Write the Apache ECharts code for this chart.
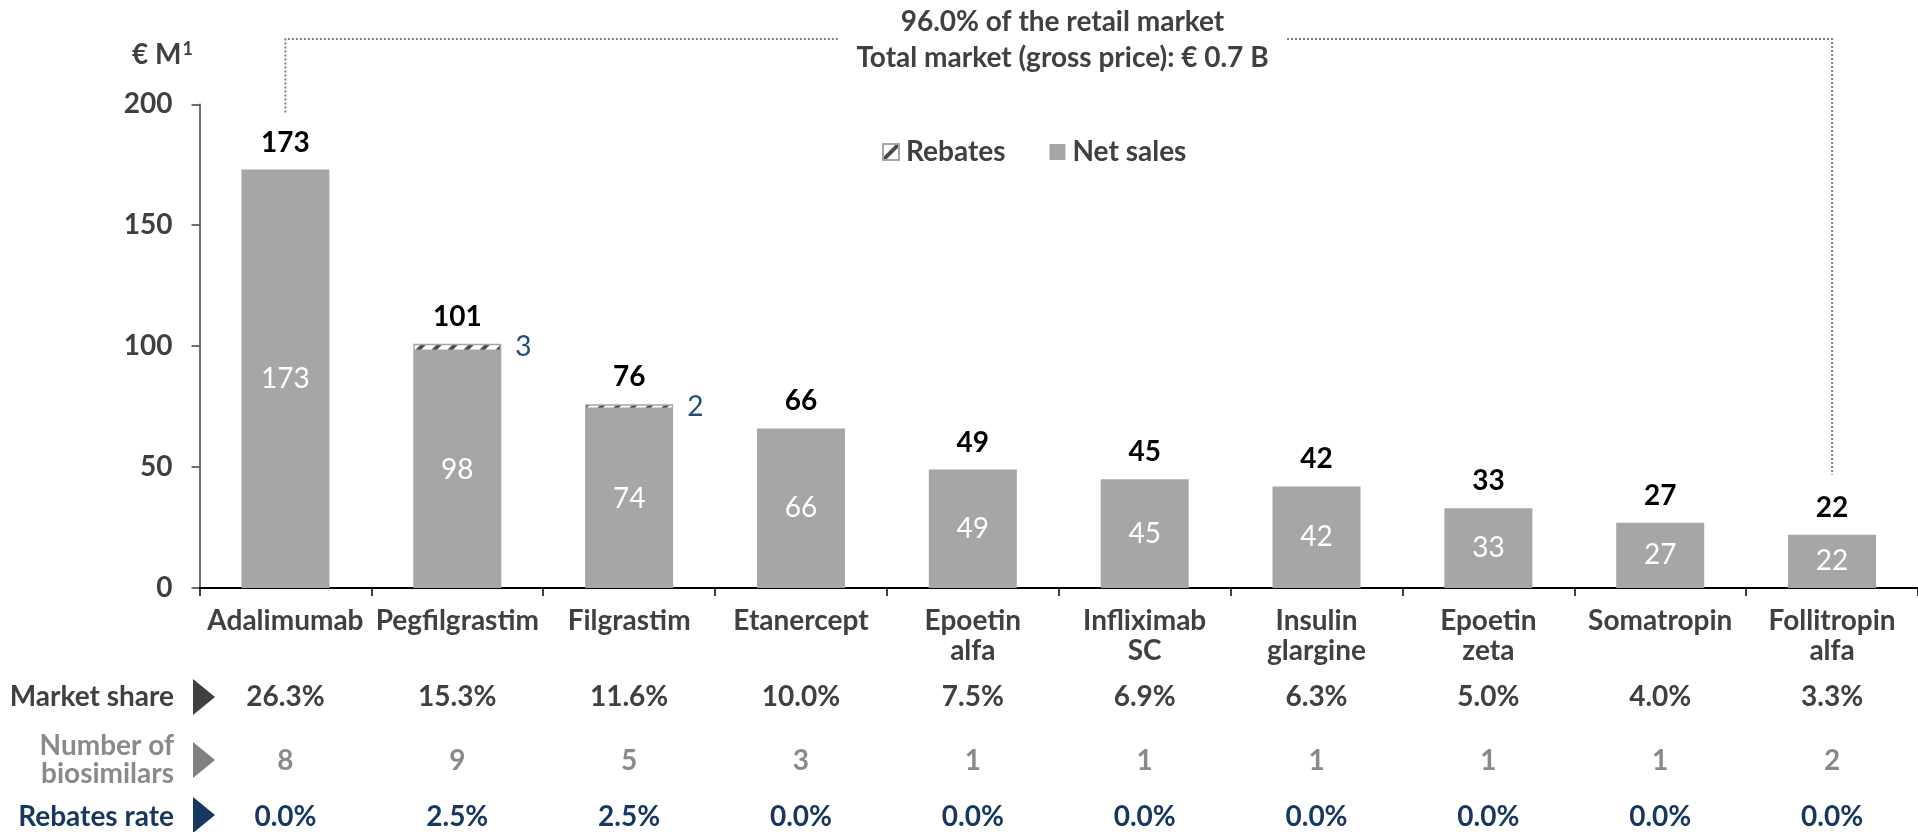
<!DOCTYPE html>
<html>
<head>
<meta charset="utf-8">
<script src="https://cdn.jsdelivr.net/npm/echarts@6/dist/echarts.min.js"></script>
<style>
html,body{margin:0;padding:0;background:#fff;}
#c{width:1918px;height:832px;}
</style>
</head>
<body>
<div id="c"></div>
<script>
// ---- data ----
const categories = ['Adalimumab','Pegfilgrastim','Filgrastim','Etanercept','Epoetin\nalfa','Infliximab\nSC','Insulin\nglargine','Epoetin\nzeta','Somatropin','Follitropin\nalfa'];
const netSales = [173, 98, 74, 66, 49, 45, 42, 33, 27, 22];
const rebates = [0, 3, 2, 0, 0, 0, 0, 0, 0, 0];
const totals = [173, 101, 76, 66, 49, 45, 42, 33, 27, 22];
const marketShare = ['26.3%','15.3%','11.6%','10.0%','7.5%','6.9%','6.3%','5.0%','4.0%','3.3%'];
const biosimilars = ['8','9','5','3','1','1','1','1','1','2'];
const rebatesRate = ['0.0%','2.5%','2.5%','0.0%','0.0%','0.0%','0.0%','0.0%','0.0%','0.0%'];
const yMin = 0, yMax = 200, yInterval = 50;
const unitLabel = '€ M';
const unitSup = '1';
const headerLine1 = '96.0% of the retail market';
const headerLine2 = 'Total market (gross price): € 0.7 B';
const rowLabels = ['Market share', 'Number of\nbiosimilars', 'Rebates rate'];

// ---- styles ----
const FONT = 'Lato';
const FS = 28;
const DARK = '#404040';
const GREY = '#8a8a8a';
const NAVY = '#17375E';
const BLUE = '#1F4E79';
const BAR = '#A6A6A6';

// hatch pattern for rebates
const pc = document.createElement('canvas');
pc.width = 16; pc.height = 16;
const g = pc.getContext('2d');
g.fillStyle = '#ffffff'; g.fillRect(0,0,16,16);
g.strokeStyle = '#4a4a4a'; g.lineWidth = 4;
g.beginPath();
g.moveTo(-4,20); g.lineTo(20,-4);
g.stroke();

const chart = echarts.init(document.getElementById('c'), null, {renderer:'canvas'});

function rowAxis(data, offset, color) {
  return {
    type: 'category', data: data, gridIndex: 0, position: 'bottom', offset: offset,
    axisLine: {show:false}, axisTick: {show:false}, splitLine:{show:false},
    axisLabel: {margin: 0, interval: 0, color: color, fontFamily: FONT, fontWeight: 'bold', fontSize: FS, lineHeight: 30}
  };
}

chart.setOption({
  animation: false,
  backgroundColor: '#ffffff',
  grid: {left: 199.5, top: 104.3, width: 1728, height: 484, containLabel: false},
  legend: {
    data: ['Rebates','Net sales'],
    left: 877, top: 133,
    itemWidth: 16, itemHeight: 16, itemGap: 44,
    icon: 'rect',
    selectedMode: false,
    textStyle: {color: DARK, fontFamily: FONT, fontWeight: 'bold', fontSize: FS, padding: [0,0,0,2]}
  },
  xAxis: [
    {
      type: 'category', data: categories, gridIndex: 0,
      axisLine: {show: true, lineStyle: {color: '#000', width: 2}},
      axisTick: {show: true, length: 8, alignWithLabel: false, lineStyle: {color: '#000', width: 1.5}},
      axisLabel: {margin: 18, interval: 0, color: DARK, fontFamily: FONT, fontWeight: 'bold', fontSize: FS, lineHeight: 30}
    },
    rowAxis(marketShare, 94, DARK),
    rowAxis(biosimilars, 158, GREY),
    rowAxis(rebatesRate, 214, NAVY)
  ],
  yAxis: {
    type: 'value', min: yMin, max: yMax, interval: yInterval,
    axisLine: {show: true, lineStyle: {color: '#404040', width: 1.5}},
    axisTick: {show: true, length: 8, lineStyle: {color: '#404040', width: 1.5}},
    splitLine: {show: false},
    axisLabel: {margin: 27, color: DARK, fontFamily: FONT, fontWeight: 'bold', fontSize: FS}
  },
  series: [
    {
      name: 'Net sales', type: 'bar', stack: 'a', barWidth: 88, data: netSales,
      itemStyle: {color: BAR},
      label: {show: true, position: 'inside', color: '#fff', fontFamily: FONT, fontSize: FS, fontWeight: 'normal'}
    },
    {
      name: 'Rebates', type: 'bar', stack: 'a', barWidth: 88,
      data: rebates.map(v => v ? {value: v} : {value: v, itemStyle: {borderWidth: 0}}),
      itemStyle: {color: {image: pc, repeat: 'repeat'}, borderColor: BAR, borderWidth: 1.5},
      label: {show: true, position: 'right', distance: 14, color: BLUE, fontFamily: FONT, fontSize: FS,
              formatter: p => p.value ? String(p.value) : ''}
    },
    {
      name: 'Total', type: 'bar', barWidth: 88, barGap: '-100%', data: totals, silent: true, z: 0,
      itemStyle: {color: 'rgba(0,0,0,0)'},
      label: {show: true, position: 'top', distance: 13, color: '#000', fontFamily: FONT, fontSize: FS, fontWeight: 'bold'}
    }
  ]
});

// annotations tied to the data scale
const first = chart.convertToPixel({gridIndex: 0}, [0, totals[0]]);
const lastIdx = totals.length - 1;
const last = chart.convertToPixel({gridIndex: 0}, [lastIdx, totals[lastIdx]]);
const topY = 39;
const gapL = 838, gapR = 1287;
const headerX = (gapL + gapR) / 2;
const dot = {stroke: '#7F7F7F', lineWidth: 2, lineDash: [2, 2]};
const txt = (x, y, text, color, align, extra) => ({
  type: 'text', x: x, y: y,
  style: Object.assign({text: text, fill: color, font: 'bold ' + FS + 'px ' + FONT, align: align, verticalAlign: 'middle'}, extra || {})
});
const tri = (cy, color) => ({
  type: 'polygon', shape: {points: [[193, cy - 18], [215, cy], [193, cy + 18]]}, style: {fill: color}
});

chart.setOption({
  graphic: [
    {type: 'polyline', shape: {points: [[first[0], first[1] - 57], [first[0], topY], [gapL, topY]]}, style: Object.assign({fill: null}, dot)},
    {type: 'polyline', shape: {points: [[gapR, topY], [last[0], topY], [last[0], last[1] - 60]]}, style: Object.assign({fill: null}, dot)},
    txt(headerX, 22, headerLine1, DARK, 'center'),
    txt(headerX, 58, headerLine2, DARK, 'center'),
    {
      type: 'text', x: 132, y: 55,
      style: {
        text: '{m|' + unitLabel + '}{s|' + unitSup + '}',
        verticalAlign: 'middle', align: 'left',
        rich: {
          m: {fill: DARK, font: 'bold ' + FS + 'px ' + FONT},
          s: {fill: DARK, font: 'bold 18px ' + FONT, padding: [0, 0, 12, 1]}
        }
      }
    },
    txt(174, 697, rowLabels[0], DARK, 'right'),
    txt(174, 760, rowLabels[1], GREY, 'right', {lineHeight: 28}),
    txt(174, 817, rowLabels[2], NAVY, 'right'),
    tri(697, DARK),
    tri(760, '#808080'),
    tri(815, NAVY)
  ]
});
</script>
</body>
</html>
